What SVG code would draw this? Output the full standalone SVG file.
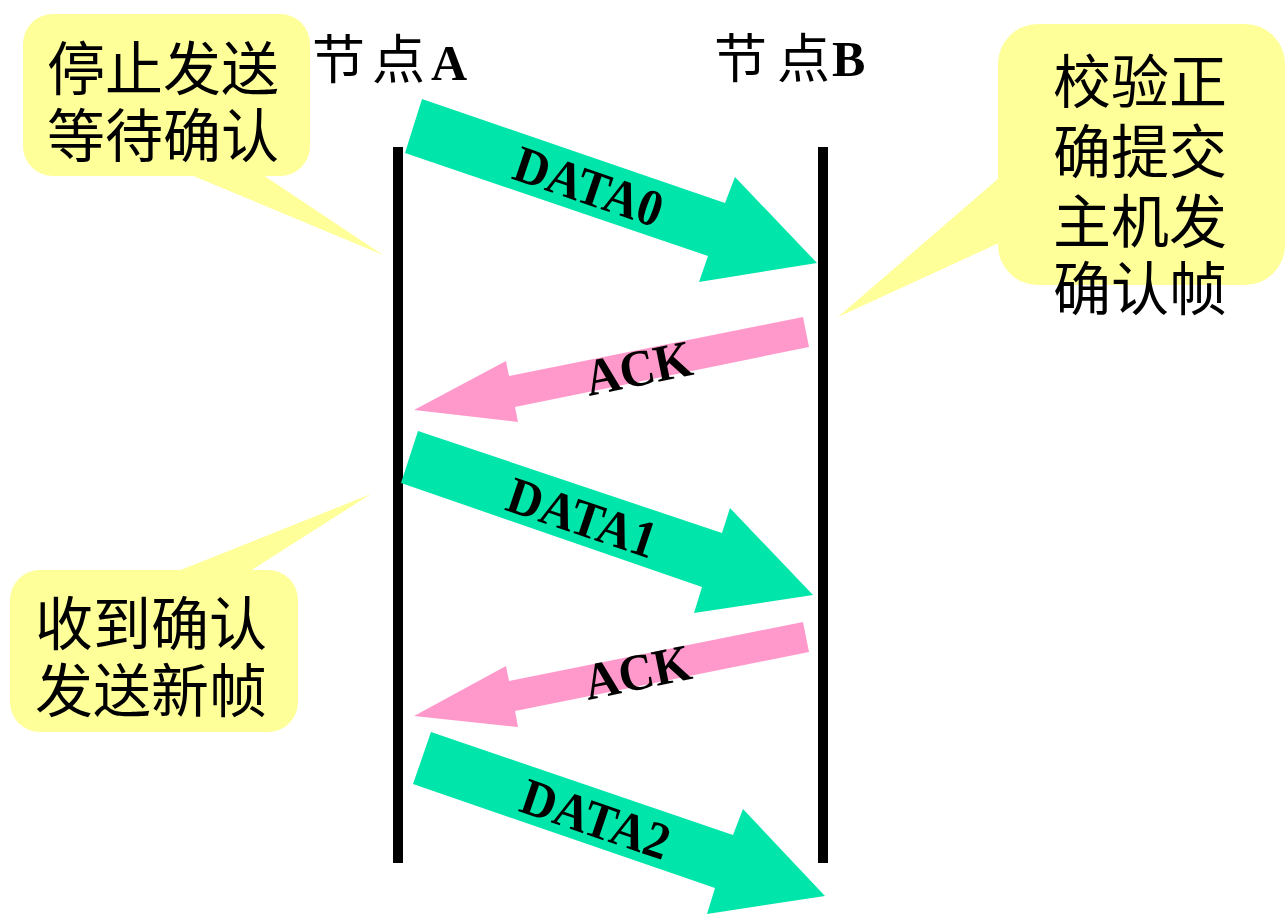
<svg xmlns="http://www.w3.org/2000/svg" width="1285" height="916" viewBox="0 0 1285 916">
<style>
.callout{fill:#FFFF99;stroke:none}
.cjk{font-family:"Liberation Serif","Noto Sans CJK SC",serif;font-size:58px;fill:#000}
.hdr{font-family:"Liberation Serif","Noto Sans CJK SC",serif;font-size:53px;fill:#000}
.hdr .lat{font-weight:bold;font-size:50px}
.life{fill:#000}
.data{fill:#00E5AA;stroke:none}
.ack{fill:#FF99CC;stroke:none}
.lbl{font-family:"Liberation Serif","Times New Roman",serif;font-weight:bold;font-size:52px;fill:#000;text-anchor:middle}
</style>
<rect width="1285" height="916" fill="#fff"/>
<g id="nodeA">
<rect class="life" x="393" y="147" width="10" height="716"/>
<text class="hdr" y="79"><tspan x="312">节</tspan><tspan x="372">点</tspan><tspan class="lat" x="431" y="80">A</tspan></text>
</g>
<g id="nodeB">
<rect class="life" x="818" y="147" width="10" height="716"/>
<text class="hdr" y="78"><tspan x="714">节</tspan><tspan x="777">点</tspan><tspan class="lat" x="832" y="76">B</tspan></text>
</g>
<g id="callout-wait">
<rect class="callout" x="23" y="14" width="287" height="162" rx="30"/>
<polygon class="callout" points="191,175 263,175 383,255"/>
<text class="cjk" x="47" y="90">停止发送</text>
<text class="cjk" x="47" y="157">等待确认</text>
</g>
<g id="callout-verify">
<rect class="callout" x="998" y="24" width="287" height="261" rx="40"/>
<polygon class="callout" points="999,178 999,243 838,317"/>
<text class="cjk" x="1053" y="103">校验正</text>
<text class="cjk" x="1053" y="173">确提交</text>
<text class="cjk" x="1053" y="243">主机发</text>
<text class="cjk" x="1053" y="310">确认帧</text>
</g>
<g id="callout-next">
<rect class="callout" x="10" y="570" width="288" height="162" rx="30"/>
<polygon class="callout" points="178,571 250,571 371,494"/>
<text class="cjk" x="35" y="645">收到确认</text>
<text class="cjk" x="35" y="712">发送新帧</text>
</g>
<g id="connectors">
<g id="data0">
<polygon class="data" points="422,99 725,203 735,177 817,263 699,282 708,256 405,153"/>
<text class="lbl" transform="translate(588.5,187) rotate(18.8)" x="0" y="17" textLength="154" lengthAdjust="spacingAndGlyphs">DATA0</text>
</g>
<g id="ack0">
<polygon class="ack" points="803,317 809,347 515,407 518,422 414,410 506,361 509,376"/>
<text class="lbl" transform="translate(638.5,368.5) rotate(-11.5)" x="0" y="17" textLength="108" lengthAdjust="spacingAndGlyphs">ACK</text>
</g>
<g id="data1">
<polygon class="data" points="418,431 722,533 730,508 813,595 694,613 702,587 401,483"/>
<text class="lbl" transform="translate(582,518) rotate(18.6)" x="0" y="17" textLength="154" lengthAdjust="spacingAndGlyphs">DATA1</text>
</g>
<g id="ack1">
<polygon class="ack" points="803,622 809,652 515,711 518,727 414,716 506,666 509,681"/>
<text class="lbl" transform="translate(637.5,672.5) rotate(-11.5)" x="0" y="17" textLength="108" lengthAdjust="spacingAndGlyphs">ACK</text>
</g>
<g id="data2">
<polygon class="data" points="431,732 733,835 743,809 825,896 707,914 715,888 413,784"/>
<text class="lbl" transform="translate(595.5,819.5) rotate(18.8)" x="0" y="17" textLength="154" lengthAdjust="spacingAndGlyphs">DATA2</text>
</g>
</g>
</svg>
